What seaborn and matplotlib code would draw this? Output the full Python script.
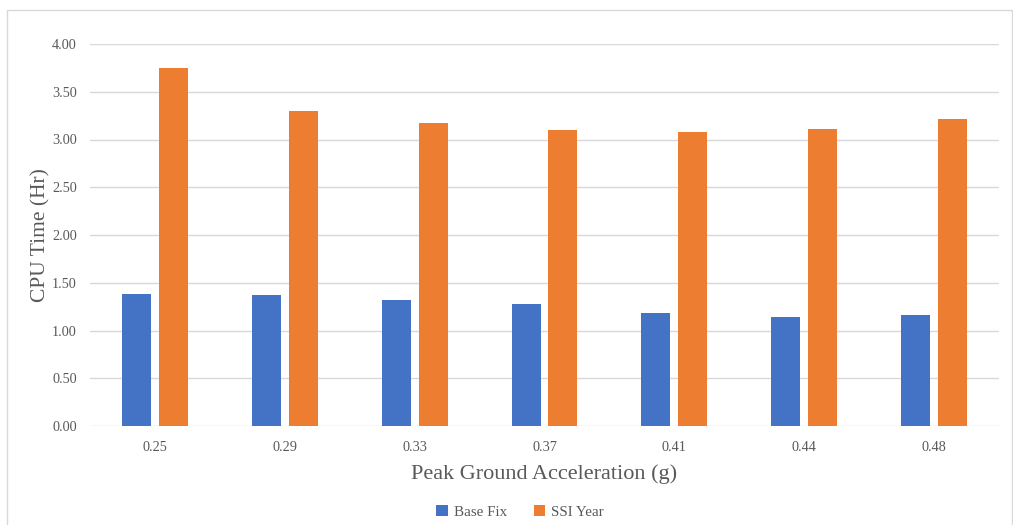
import matplotlib
matplotlib.use("Agg")
import matplotlib.pyplot as plt
import seaborn as sns
import pandas as pd
from matplotlib.lines import Line2D
from matplotlib.patches import Patch

categories = ["0.25", "0.29", "0.33", "0.37", "0.41", "0.44", "0.48"]
base_fix = [1.38, 1.375, 1.32, 1.275, 1.18, 1.14, 1.16]
ssi_year = [3.75, 3.30, 3.17, 3.10, 3.08, 3.11, 3.21]
series_names = ["Base Fix", "SSI Year"]
colors = ["#4472C4", "#ED7D31"]

df = pd.DataFrame({
    "PGA": categories * 2,
    "CPU": base_fix + ssi_year,
    "Series": [series_names[0]] * len(categories) + [series_names[1]] * len(categories),
})

sns.set_theme(style="white")
plt.rcParams["font.family"] = ["Liberation Serif", "DejaVu Serif"]
text_color = "#595959"

fig = plt.figure(figsize=(10.13, 5.25), dpi=100)
ax = fig.add_axes([90 / 1013, 1 - 426 / 525, 909 / 1013, 382 / 525])

sns.barplot(data=df, x="PGA", y="CPU", hue="Series", palette=colors,
            width=0.567, gap=0.21, ax=ax, legend=False, saturation=1,
            edgecolor="none", linewidth=0)

ax.set_ylim(0, 4.0)
ax.set_xlim(-0.5, len(categories) - 0.5)
ax.set_yticks([i * 0.5 for i in range(9)])
ax.set_yticklabels([f"{i * 0.5:.2f}" for i in range(9)])
ax.yaxis.grid(True, color="#D9D9D9", linewidth=1.0)
ax.set_axisbelow(True)
for s in ax.spines.values():
    s.set_visible(False)
ax.tick_params(axis="both", length=0, labelsize=10.3, labelcolor=text_color)
ax.tick_params(axis="y", pad=9.5)
ax.tick_params(axis="x", pad=10.5)
ax.set_xlabel("Peak Ground Acceleration (g)", fontsize=16, color=text_color, labelpad=8)
ax.set_ylabel("CPU Time (Hr)", fontsize=15.5, color=text_color)
ax.yaxis.set_label_coords(-0.0435, 0.5)

handles = [Patch(facecolor=c, edgecolor="none") for c in colors]
fig.legend(handles, series_names, loc="center", bbox_to_anchor=(520 / 1013, 1 - 512 / 525),
           ncol=2, frameon=False, fontsize=10.8, labelcolor=text_color,
           handlelength=0.75, handleheight=0.75, handletextpad=0.4, columnspacing=1.8)

# chart border
bc = "#D9D9D9"
fig.add_artist(Line2D([7 / 1013, 7 / 1013], [0, 1 - 10 / 525], transform=fig.transFigure, color=bc, lw=1))
fig.add_artist(Line2D([7 / 1013, 1011.5 / 1013], [1 - 10 / 525, 1 - 10 / 525], transform=fig.transFigure, color=bc, lw=1))
fig.add_artist(Line2D([1011.5 / 1013, 1011.5 / 1013], [0, 1 - 10 / 525], transform=fig.transFigure, color=bc, lw=1))

fig.savefig("out.png", dpi=100, facecolor="white")
